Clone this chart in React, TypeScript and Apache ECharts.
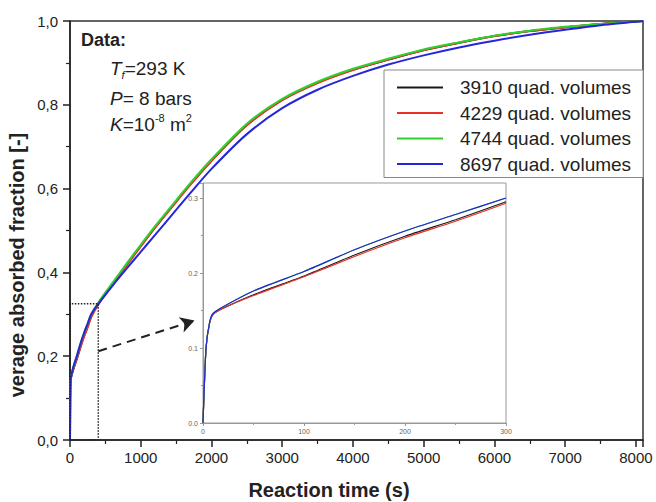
import React, { useEffect, useRef } from 'react';
import * as echarts from 'echarts';

// Reaction time (s)
const times = [0, 3, 6.5, 10, 20, 50, 100, 150, 200, 250, 300, 400, 600, 800, 1000, 1200, 1500, 1700, 2000, 2500, 3000, 3500, 4000, 4500, 5000, 5500, 6000, 6500, 7000, 7500, 8100];
// Average absorbed fraction for each mesh
const v3910 = [0, 0.10, 0.133, 0.145, 0.153, 0.171, 0.196, 0.224, 0.249, 0.271, 0.295, 0.325, 0.372, 0.418, 0.463, 0.507, 0.569, 0.610, 0.667, 0.752, 0.812, 0.853, 0.884, 0.908, 0.931, 0.948, 0.964, 0.976, 0.985, 0.993, 1.0];
const v4229 = [0, 0.10, 0.133, 0.145, 0.153, 0.170, 0.195, 0.222, 0.247, 0.269, 0.293, 0.323, 0.371, 0.417, 0.462, 0.506, 0.568, 0.609, 0.666, 0.751, 0.811, 0.852, 0.883, 0.908, 0.930, 0.948, 0.964, 0.976, 0.985, 0.993, 1.0];
const v4744 = [0, 0.10, 0.134, 0.146, 0.155, 0.176, 0.202, 0.231, 0.256, 0.278, 0.300, 0.328, 0.375, 0.421, 0.466, 0.510, 0.572, 0.613, 0.670, 0.755, 0.814, 0.855, 0.886, 0.910, 0.932, 0.949, 0.965, 0.977, 0.986, 0.993, 1.0];
const v8697 = [0, 0.10, 0.134, 0.146, 0.155, 0.176, 0.202, 0.231, 0.256, 0.278, 0.300, 0.325, 0.368, 0.409, 0.449, 0.489, 0.549, 0.589, 0.647, 0.730, 0.792, 0.836, 0.869, 0.896, 0.918, 0.937, 0.953, 0.967, 0.979, 0.990, 1.0];

const seriesNames = ['3910 quad. volumes', '4229 quad. volumes', '4744 quad. volumes', '8697 quad. volumes'];
const seriesValues = [v3910, v4229, v4744, v8697];
const seriesColors = ['#1a1a1a', '#e8312a', '#2fd12f', '#2626d9'];

// zoom window (dotted box) and arrow to the inset, in data units
const zoomBox = [[0, 0], [0, 0.325], [400, 0.325], [400, 0], [0, 0]];
const arrowFrom = [400, 0.212];
const arrowTo = [1760, 0.285];

const FONT = '"Liberation Sans", Arial, sans-serif';

export default function App() {
  const ref = useRef<HTMLDivElement>(null);
  useEffect(() => {
    document.body.style.margin = '0';
    if (!ref.current) return;
    const chart = echarts.init(ref.current, undefined, { renderer: 'svg' });

    const mainSeries = seriesNames.map((name, i) => ({
      type: 'line',
      name,
      xAxisIndex: 0,
      yAxisIndex: 0,
      data: times.map((t, j) => [t, seriesValues[i][j]]),
      symbol: 'none',
      showSymbol: false,
      smooth: 0.3,
      lineStyle: { width: 2, color: seriesColors[i] },
      itemStyle: { color: seriesColors[i] },
      z: 3,
    }));
    const insetSeries = seriesNames.map((name, i) => ({
      type: 'line',
      name,
      xAxisIndex: 1,
      yAxisIndex: 1,
      data: times.filter((t) => t <= 300).map((t, j) => [t, seriesValues[i][j]]),
      symbol: 'none',
      showSymbol: false,
      smooth: 0.2,
      lineStyle: { width: 1.2, color: seriesColors[i] },
      itemStyle: { color: seriesColors[i] },
      z: 3,
    }));

    const txt = '#222';
    const option: any = {
      animation: false,
      textStyle: { fontFamily: FONT },
      grid: [
        { left: 70, top: 21, right: 13, bottom: 62, show: true, borderColor: '#333', borderWidth: 1.5, backgroundColor: 'transparent' },
        { left: 203, top: 183, width: 303, height: 240, show: true, borderColor: '#999', borderWidth: 1, backgroundColor: '#fff' },
      ],
      xAxis: [
        {
          type: 'value', gridIndex: 0, min: 0, max: 8100, interval: 1000,
          axisLine: { show: true, onZero: false, lineStyle: { color: txt, width: 1.5 } },
          axisTick: { show: true, length: 7, lineStyle: { color: txt, width: 1.5 } },
          minorTick: { show: true, splitNumber: 2, length: 4, lineStyle: { color: txt, width: 1.2 } },
          splitLine: { show: false },
          axisLabel: { fontSize: 15, color: txt, margin: 10, fontFamily: FONT, formatter: (v: number) => (v % 1000 === 0 ? String(v) : '') },
        },
        {
          type: 'value', gridIndex: 1, min: 0, max: 300, interval: 100,
          axisLine: { show: true, onZero: false, lineStyle: { color: '#999', width: 1 } },
          axisTick: { show: true, length: 3, lineStyle: { color: '#999' } },
          minorTick: { show: true, splitNumber: 2, length: 2, lineStyle: { color: '#999' } },
          splitLine: { show: false },
          axisLabel: { fontSize: 7, color: '#666', margin: 5, fontFamily: FONT },
        },
      ],
      yAxis: [
        {
          type: 'value', gridIndex: 0, min: 0, max: 1, interval: 0.2,
          axisLine: { show: true, onZero: false, lineStyle: { color: txt, width: 1.5 } },
          axisTick: { show: true, length: 7, lineStyle: { color: txt, width: 1.5 } },
          minorTick: { show: true, splitNumber: 2, length: 4, lineStyle: { color: txt, width: 1.2 } },
          splitLine: { show: false },
          axisLabel: { fontSize: 15, color: txt, margin: 12, fontFamily: FONT, formatter: (v: number) => v.toFixed(1).replace('.', ',') },
        },
        {
          type: 'value', gridIndex: 1, min: 0, max: 0.32, interval: 0.1,
          axisLine: { show: true, onZero: false, lineStyle: { color: '#999', width: 1 } },
          axisTick: { show: true, length: 3, lineStyle: { color: '#999' } },
          minorTick: { show: true, splitNumber: 2, length: 2, lineStyle: { color: '#999' } },
          splitLine: { show: false },
          axisLabel: {
            fontSize: 7, color: '#666', margin: 5, fontFamily: FONT,
            formatter: (v: number) => (Math.abs(v * 10 - Math.round(v * 10)) < 1e-6 ? v.toFixed(1) : ''),
          },
        },
      ],
      legend: {
        data: seriesNames,
        orient: 'vertical',
        left: 384,
        top: 70,
        icon: 'rect',
        itemWidth: 46,
        itemHeight: 2,
        itemGap: 6.5,
        padding: [8, 12, 4, 13],
        borderColor: '#888',
        borderWidth: 1,
        backgroundColor: '#fff',
        selectedMode: false,
        textStyle: { fontSize: 19, color: txt, fontFamily: FONT, lineHeight: 18, padding: [0, 0, 0, 12] },
      },
      series: [
        ...mainSeries,
        ...insetSeries,
        {
          type: 'line',
          name: 'zoom window',
          xAxisIndex: 0,
          yAxisIndex: 0,
          data: zoomBox,
          symbol: 'none',
          silent: true,
          lineStyle: { type: 'dotted', width: 1.5, color: txt },
          z: 4,
          markLine: {
            silent: true,
            symbol: ['none', 'arrow'],
            symbolSize: [12, 14],
            label: { show: false },
            lineStyle: { type: [9, 6], width: 2, color: txt },
            data: [[{ coord: arrowFrom }, { coord: arrowTo }]],
          },
        },
      ],
      graphic: [
        {
          type: 'text', x: 17, y: 265, rotation: Math.PI / 2,
          style: {
            text: 'verage absorbed fraction [-]', fontSize: 20, fontWeight: 'bold', fontFamily: FONT, fill: txt,
            align: 'center', verticalAlign: 'middle', textAlign: 'center', textVerticalAlign: 'middle',
          },
        },
        {
          type: 'text', x: 329, y: 490,
          style: {
            text: 'Reaction time (s)', fontSize: 20, fontWeight: 'bold', fontFamily: FONT, fill: txt,
            align: 'center', verticalAlign: 'middle', textAlign: 'center', textVerticalAlign: 'middle',
          },
        },
        {
          type: 'text', x: 81, y: 40,
          style: {
            text: 'Data:', fontSize: 18, fontWeight: 'bold', fontFamily: FONT, fill: txt,
            align: 'left', verticalAlign: 'middle', textAlign: 'left', textVerticalAlign: 'middle',
          },
        },
        {
          type: 'text', x: 110, y: 68,
          style: {
            text: '{i|T}{s|f}{n|=293 K}',
            align: 'left', verticalAlign: 'middle', textAlign: 'left', textVerticalAlign: 'middle',
            rich: {
              i: { fontSize: 19, fontStyle: 'italic', fontFamily: FONT, fill: txt, lineHeight: 24, verticalAlign: 'middle' },
              s: { fontSize: 11, fontStyle: 'italic', fontFamily: FONT, fill: txt, lineHeight: 11, verticalAlign: 'bottom' },
              n: { fontSize: 19, fontFamily: FONT, fill: txt, lineHeight: 24, verticalAlign: 'middle' },
            },
          },
        },
        {
          type: 'text', x: 110, y: 98,
          style: {
            text: '{i|P}{n|= 8 bars}',
            align: 'left', verticalAlign: 'middle', textAlign: 'left', textVerticalAlign: 'middle',
            rich: {
              i: { fontSize: 19, fontStyle: 'italic', fontFamily: FONT, fill: txt, lineHeight: 24, verticalAlign: 'middle' },
              n: { fontSize: 19, fontFamily: FONT, fill: txt, lineHeight: 24, verticalAlign: 'middle' },
            },
          },
        },
        {
          type: 'text', x: 110, y: 124,
          style: {
            text: '{i|K}{n|=10}{p|-8}{n| m}{p|2}',
            align: 'left', verticalAlign: 'middle', textAlign: 'left', textVerticalAlign: 'middle',
            rich: {
              i: { fontSize: 19, fontStyle: 'italic', fontFamily: FONT, fill: txt, lineHeight: 24, verticalAlign: 'middle' },
              p: { fontSize: 11, fontFamily: FONT, fill: txt, lineHeight: 11, verticalAlign: 'top' },
              n: { fontSize: 19, fontFamily: FONT, fill: txt, lineHeight: 24, verticalAlign: 'middle' },
            },
          },
        },
      ],
    };
    chart.setOption(option);
    return () => chart.dispose();
  }, []);
  return <div ref={ref} style={{ width: 656, height: 502 }} />;
}
